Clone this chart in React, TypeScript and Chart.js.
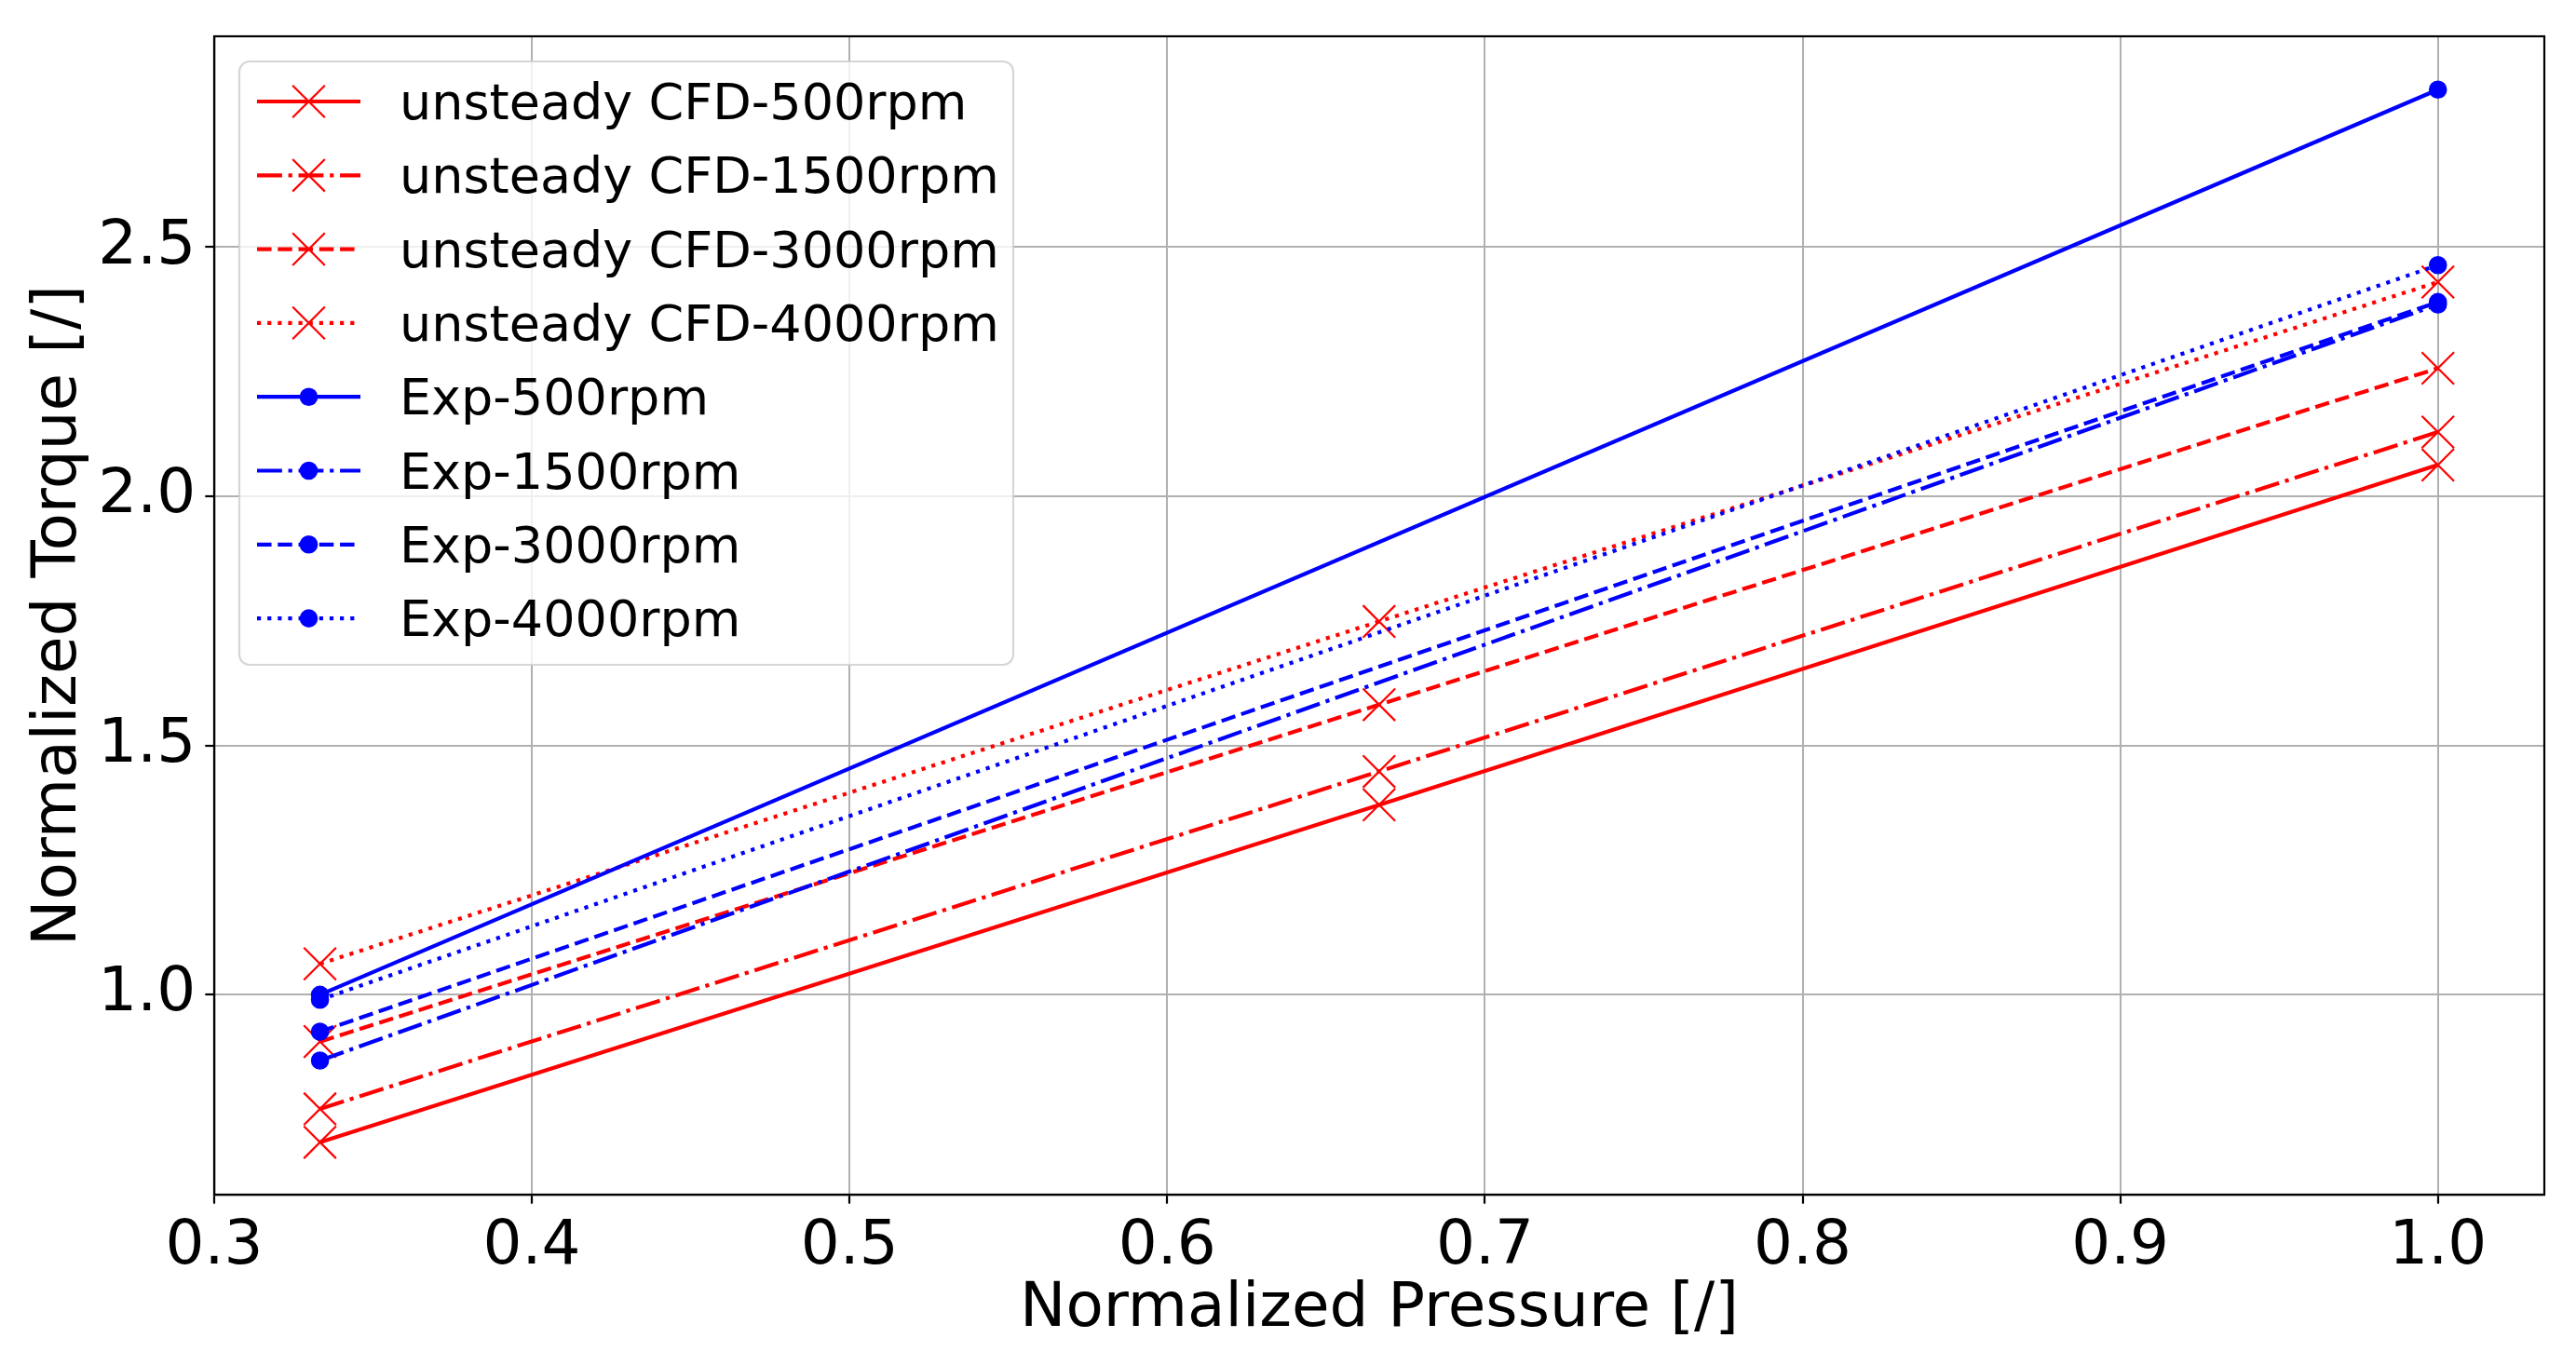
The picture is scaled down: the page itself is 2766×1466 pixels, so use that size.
import { Chart, registerables } from "chart.js";
import { useEffect, useRef } from "react";

Chart.register(...registerables);

// values
const CFD_PRESSURE = [0.3333, 0.6667, 1.0];
const EXP_PRESSURE = [0.3333, 1.0];

const CFD_500 = [0.704, 1.381, 2.063];
const CFD_1500 = [0.771, 1.448, 2.129];
const CFD_3000 = [0.906, 1.582, 2.257];
const CFD_4000 = [1.062, 1.749, 2.43];

const EXP_500 = [1.0, 2.816];
const EXP_1500 = [0.868, 2.385];
const EXP_3000 = [0.926, 2.39];
const EXP_4000 = [0.99, 2.464];

const X_TICKS = [0.3, 0.4, 0.5, 0.6, 0.7, 0.8, 0.9, 1.0];
const Y_TICKS = [1.0, 1.5, 2.0, 2.5];

const RED = "#ff0000";
const BLUE = "#0000ff";
const LW = 4.2;
const FONT = '"DejaVu Sans", "Liberation Sans", sans-serif';

// matplotlib-like dash patterns, scaled by line width
const STYLES: Record<string, number[]> = {
  solid: [],
  dashdot: [6.4 * LW, 1.6 * LW, 1 * LW, 1.6 * LW],
  dashed: [3.7 * LW, 1.6 * LW],
  dotted: [1 * LW, 1.65 * LW],
};

const pts = (xs: number[], ys: number[]) => xs.map((x, i) => ({ x, y: ys[i] }));

const cfd = (label: string, ys: number[], dash: number[]) => ({
  label,
  data: pts(CFD_PRESSURE, ys),
  borderColor: RED,
  backgroundColor: RED,
  borderWidth: LW,
  borderDash: dash,
  pointStyle: "crossRot",
  pointRadius: 24.5,
  pointBorderWidth: 2.2,
  pointBorderColor: RED,
  order: 1,
});

const exp = (label: string, ys: number[], dash: number[]) => ({
  label,
  data: pts(EXP_PRESSURE, ys),
  borderColor: BLUE,
  backgroundColor: BLUE,
  borderWidth: LW,
  borderDash: dash,
  pointStyle: "circle",
  pointRadius: 8.6,
  pointBorderWidth: 2.4,
  pointBorderColor: BLUE,
  pointBackgroundColor: BLUE,
  order: 0,
});

// full frame round the plot, like matplotlib spines
const framePlugin = {
  id: "frame",
  afterDatasetsDraw(chart: Chart) {
    const { ctx, chartArea: a } = chart;
    ctx.save();
    ctx.strokeStyle = "#000";
    ctx.lineWidth = 2.2;
    ctx.strokeRect(a.left, a.top, a.right - a.left, a.bottom - a.top);
    ctx.restore();
  },
};

// legend inside the plot, upper left
const legendPlugin = {
  id: "innerLegend",
  afterDraw(chart: Chart) {
    const { ctx, chartArea: a } = chart;
    const boxX = a.left + 27;
    const boxY = a.top + 27;
    const boxW = 831;
    const boxH = 648;
    const r = 11;
    ctx.save();
    ctx.beginPath();
    ctx.moveTo(boxX + r, boxY);
    ctx.arcTo(boxX + boxW, boxY, boxX + boxW, boxY + boxH, r);
    ctx.arcTo(boxX + boxW, boxY + boxH, boxX, boxY + boxH, r);
    ctx.arcTo(boxX, boxY + boxH, boxX, boxY, r);
    ctx.arcTo(boxX, boxY, boxX + boxW, boxY, r);
    ctx.closePath();
    ctx.fillStyle = "rgba(255,255,255,0.8)";
    ctx.fill();
    ctx.strokeStyle = "rgba(204,204,204,0.8)";
    ctx.lineWidth = 2.2;
    ctx.stroke();

    ctx.font = `54px ${FONT}`;
    ctx.textAlign = "left";
    ctx.textBaseline = "alphabetic";
    chart.data.datasets.forEach((ds: any, i: number) => {
      const y = boxY + 43 + i * 79.3;
      const x0 = boxX + 19;
      const x1 = boxX + 130;
      const xm = (x0 + x1) / 2;
      ctx.strokeStyle = ds.borderColor;
      ctx.lineWidth = ds.borderWidth;
      ctx.setLineDash(ds.borderDash || []);
      ctx.beginPath();
      ctx.moveTo(x0, y);
      ctx.lineTo(x1, y);
      ctx.stroke();
      ctx.setLineDash([]);
      if (ds.pointStyle === "crossRot") {
        const h = ds.pointRadius * Math.SQRT1_2;
        ctx.lineWidth = ds.pointBorderWidth;
        ctx.beginPath();
        ctx.moveTo(xm - h, y - h);
        ctx.lineTo(xm + h, y + h);
        ctx.moveTo(xm + h, y - h);
        ctx.lineTo(xm - h, y + h);
        ctx.stroke();
      } else {
        ctx.fillStyle = ds.pointBackgroundColor;
        ctx.lineWidth = ds.pointBorderWidth;
        ctx.beginPath();
        ctx.arc(xm, y, ds.pointRadius, 0, Math.PI * 2);
        ctx.fill();
        ctx.stroke();
      }
      ctx.fillStyle = "#000";
      ctx.fillText(ds.label, boxX + 172, y + 19);
    });
    ctx.restore();
  },
};

export default function App() {
  const canvasRef = useRef<HTMLCanvasElement>(null);
  const chartRef = useRef<Chart | null>(null);

  useEffect(() => {
    if (!canvasRef.current) return;
    if (chartRef.current) chartRef.current.destroy();

    const chart = new Chart(canvasRef.current, {
      type: "line",
      data: {
        datasets: [
          cfd("unsteady CFD-500rpm", CFD_500, STYLES.solid),
          cfd("unsteady CFD-1500rpm", CFD_1500, STYLES.dashdot),
          cfd("unsteady CFD-3000rpm", CFD_3000, STYLES.dashed),
          cfd("unsteady CFD-4000rpm", CFD_4000, STYLES.dotted),
          exp("Exp-500rpm", EXP_500, STYLES.solid),
          exp("Exp-1500rpm", EXP_1500, STYLES.dashdot),
          exp("Exp-3000rpm", EXP_3000, STYLES.dashed),
          exp("Exp-4000rpm", EXP_4000, STYLES.dotted),
        ] as any,
      },
      options: {
        animation: false,
        responsive: true,
        maintainAspectRatio: false,
        layout: { padding: { left: 0, top: 39, right: 34, bottom: 0 } },
        plugins: {
          legend: { display: false },
          tooltip: { enabled: false },
        },
        scales: {
          x: {
            type: "linear",
            min: 0.3,
            max: 1.0335,
            afterBuildTicks: (scale: any) => {
              scale.ticks = X_TICKS.map((v) => ({ value: v }));
            },
            afterFit: (scale: any) => {
              scale.height = 183;
              scale.paddingLeft = 0;
              scale.paddingRight = 0;
            },
            ticks: {
              color: "#000",
              padding: 8,
              maxRotation: 0,
              autoSkip: false,
              font: { family: FONT, size: 66 },
              callback: (v: any) => Number(v).toFixed(1),
            },
            grid: { color: "#b0b0b0", lineWidth: 2, tickColor: "#000", tickLength: 9.7, tickWidth: 2.2 },
            border: { color: "#000", width: 2.2 },
            title: {
              display: true,
              text: "Normalized Pressure [/]",
              color: "#000",
              font: { family: FONT, size: 66, lineHeight: 1.2 },
              padding: { top: 0, bottom: 20 },
            },
          },
          y: {
            type: "linear",
            min: 0.599,
            max: 2.923,
            afterBuildTicks: (scale: any) => {
              scale.ticks = Y_TICKS.map((v) => ({ value: v }));
            },
            afterFit: (scale: any) => {
              scale.width = 230;
              scale.paddingTop = 0;
              scale.paddingBottom = 0;
            },
            ticks: {
              color: "#000",
              padding: 10,
              autoSkip: false,
              font: { family: FONT, size: 66 },
              callback: (v: any) => Number(v).toFixed(1),
            },
            grid: { color: "#b0b0b0", lineWidth: 2, tickColor: "#000", tickLength: 9.7, tickWidth: 2.2 },
            border: { color: "#000", width: 2.2 },
            title: {
              display: true,
              text: "Normalized Torque [/]",
              color: "#000",
              font: { family: FONT, size: 66, lineHeight: 1.2 },
              padding: { top: 24, bottom: 0 },
            },
          },
        },
      },
      plugins: [framePlugin, legendPlugin],
    });
    chartRef.current = chart;

    return () => {
      chart.destroy();
    };
  }, []);

  return (
    <div style={{ position: "absolute", left: 0, top: 0, width: 2766, height: 1466, background: "#fff" }}>
      <canvas ref={canvasRef}></canvas>
    </div>
  );
}
